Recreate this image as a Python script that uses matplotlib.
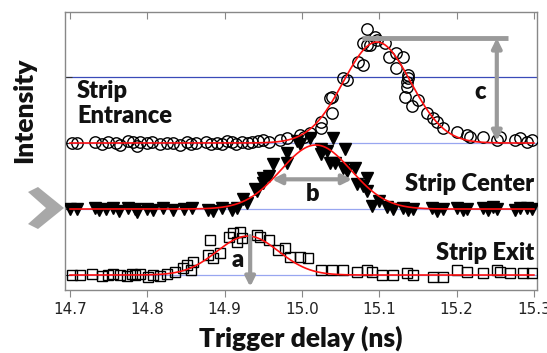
import numpy as np
import matplotlib
matplotlib.use("Agg")
import matplotlib.pyplot as plt
from matplotlib.patches import Polygon

# ---------------- data ----------------
entrance_x = [14.703, 14.709, 14.732, 14.741, 14.749, 14.759, 14.765, 14.775, 14.782, 14.787,
              14.791, 14.800, 14.806, 14.816, 14.825, 14.833, 14.842, 14.851, 14.857, 14.863,
              14.876, 14.882, 14.890, 14.897, 14.903, 14.910, 14.915, 14.923, 14.930, 14.936,
              14.943, 14.949,
              14.958, 14.971, 14.980, 14.998, 15.002, 15.011, 15.024, 15.024, 15.036, 15.039,
              15.039, 15.053, 15.058, 15.072, 15.079, 15.079, 15.084, 15.084, 15.088, 15.095,
              15.097, 15.108, 15.112, 15.121, 15.121, 15.131, 15.137, 15.137, 15.136, 15.136,
              15.133, 15.142, 15.150, 15.162, 15.169, 15.175, 15.182, 15.201, 15.213, 15.217,
              15.234, 15.252, 15.256, 15.276, 15.282, 15.291, 15.297]
entrance_y = [2.00, 2.00, 2.01, 1.99, 2.02, 2.00, 1.97, 2.03, 2.01, 1.96,
              2.02, 2.00, 2.01, 1.98, 2.00, 2.00, 1.97, 2.02, 1.99, 2.00,
              2.01, 1.98, 2.00, 1.99, 2.03, 2.02, 1.98, 2.01, 2.00, 2.02,
              2.03, 2.05,
              2.015, 2.045, 2.076, 2.12, 2.09, 2.15, 2.32, 2.23, 2.68, 2.70,
              2.45, 2.98, 2.95, 3.23, 3.18, 3.52, 3.48, 3.73, 3.48, 3.61,
              3.56, 3.52, 3.30, 3.36, 3.14, 3.30, 3.03, 2.98, 2.92, 2.85,
              2.70, 2.56, 2.65, 2.45, 2.38, 2.32, 2.23, 2.17, 2.12, 2.09,
              2.09, 2.05, 2.09, 2.05, 2.08, 2.02, 2.05]

center_x = [14.700, 14.709, 14.732, 14.738, 14.747, 14.755, 14.763, 14.775, 14.784, 14.787,
            14.800, 14.807, 14.820, 14.833, 14.848, 14.858, 14.879, 14.885, 14.897, 14.910,
            14.916,
            14.924, 14.929, 14.939, 14.942, 14.949, 14.949, 14.958, 14.962, 14.981, 14.981,
            14.994, 14.998, 15.011, 15.024, 15.024, 15.032, 15.040, 15.036, 15.043, 15.053,
            15.056, 15.058, 15.068, 15.071, 15.079, 15.084, 15.084, 15.090, 15.100,
            15.110, 15.118, 15.131, 15.137, 15.144, 15.168, 15.175, 15.182, 15.201, 15.208,
            15.214, 15.234, 15.241, 15.247, 15.252, 15.276, 15.282, 15.291, 15.297]
center_y = [1.00, 1.00, 1.02, 0.98, 1.00, 1.01, 0.97, 1.02, 1.00, 0.96,
            1.00, 0.98, 1.01, 0.99, 1.00, 1.02, 0.99, 0.97, 1.01, 0.99,
            1.02,
            1.15, 1.09, 1.30, 1.27, 1.39, 1.47, 1.50, 1.68, 1.85, 1.70,
            2.03, 1.98, 2.08, 1.91, 1.83, 1.88, 2.08, 1.70, 1.70, 1.62,
            1.91, 1.58, 1.62, 1.38, 1.35, 1.27, 1.47, 1.05, 1.12,
            1.03, 1.00, 1.02, 0.98, 1.00, 1.01, 0.97, 1.00, 1.02, 0.98,
            1.00, 1.02, 0.99, 1.03, 1.00, 0.98, 1.01, 1.02, 1.00]

exit_x = [14.703, 14.713, 14.729, 14.741, 14.749, 14.756, 14.765, 14.774, 14.780, 14.784,
          14.791, 14.801, 14.807, 14.816, 14.825,
          14.836, 14.846, 14.851, 14.859, 14.857, 14.878, 14.881, 14.885, 14.894, 14.905,
          14.911, 14.916, 14.920, 14.923, 14.942, 14.946, 14.958, 14.969, 14.978, 14.985,
          14.998, 15.008, 15.024, 15.039, 15.053,
          15.071, 15.084, 15.091, 15.104, 15.118, 15.136, 15.144, 15.169, 15.182, 15.200,
          15.213, 15.234, 15.252, 15.256, 15.269, 15.286, 15.297]
exit_y = [0.00, 0.00, 0.02, -0.02, 0.00, 0.01, 0.00, -0.01, 0.02, 0.00,
          0.01, -0.03, 0.00, -0.01, 0.01,
          0.05, 0.11, 0.15, 0.20, 0.08, 0.30, 0.53, 0.26, 0.33, 0.58,
          0.64, 0.50, 0.65, 0.56, 0.61, 0.58, 0.53, 0.38, 0.41, 0.27,
          0.27, 0.26, 0.08, 0.08, 0.08,
          0.05, 0.08, 0.05, 0.00, 0.00, 0.03, 0.00, -0.03, -0.03, 0.08,
          0.05, 0.03, 0.08, 0.05, 0.03, 0.03, 0.03]

# Gaussian fit parameters: (baseline, amplitude, center, sigma)
entrance_fit = (2.0, 1.53, 15.097, 0.0435)
center_fit = (1.0, 0.97, 15.018, 0.0455)
exit_fit = (0.0, 0.59, 14.930, 0.040)

x_ticks = [14.7, 14.8, 14.9, 15.0, 15.1, 15.2, 15.3]
x_tick_labels = ["14.7", "14.8", "14.9", "15.0", "15.1", "15.2", "15.3"]
y_levels = [0, 1, 2, 3]


def gauss(x, p):
    b, a, m, s = p
    return b + a * np.exp(-(x - m) ** 2 / (2 * s ** 2))


W, H = 547, 353
fig = plt.figure(figsize=(W / 100, H / 100), dpi=100)
ax = fig.add_axes([65 / W, 1 - 290 / H, 472 / W, 278 / H])

ax.set_xlim(14.6935, 15.304)
ax.set_ylim(-0.227, 3.985)

for lv in y_levels:
    col = "#3a4ab8" if lv == 3 else "#98a6f0"
    ax.axhline(lv, color=col, lw=0.9, zorder=1)

xf = np.linspace(14.70, 15.30, 400)
ms_kw = dict(linestyle="none", zorder=3)
ax.plot(entrance_x, entrance_y, marker="o", markersize=8.2, markerfacecolor="none",
        markeredgecolor="black", markeredgewidth=1.0, **ms_kw)
ax.plot(center_x, center_y, marker="v", markersize=9, color="black", **ms_kw)
ax.plot(exit_x, exit_y, marker="s", markersize=7.4, markerfacecolor="none",
        markeredgecolor="black", markeredgewidth=1.0, **ms_kw)
for p in (entrance_fit, center_fit, exit_fit):
    ax.plot(xf, gauss(xf, p), color="#ff1010", lw=1.2, zorder=4)

# ticks & spines
ax.set_xticks(x_ticks)
ax.set_xticklabels(x_tick_labels, fontsize=11, family="DejaVu Sans", color="#222222")
ax.set_yticks(y_levels)
ax.set_yticklabels([])
ax.tick_params(axis="x", which="both", direction="out", length=5, color="#888888",
               top=True, pad=4)
ax.tick_params(axis="y", direction="in", length=5, color="#333333")
for s in ax.spines.values():
    s.set_color("#888888")
    s.set_linewidth(1.0)
for t in ax.xaxis.get_major_ticks():
    t.tick2line.set_marker(3)

ax.set_xlabel("Trigger delay (ns)", family="Lato", fontweight="heavy", fontsize=19,
              labelpad=6, color="#111111")
fig.text(24 / W, 1 - 110 / H, "Intensity", family="Lato", fontweight="heavy", fontsize=19,
         rotation=90, ha="center", va="center", color="#111111")

tkw = dict(family="Lato", fontweight="heavy", fontsize=17, color="#111111")
ax.text(14.709, 3.0 - 0.04, "Strip\nEntrance", ha="left", va="top", linespacing=1.2, **tkw)
ax.text(15.300, 1.38, "Strip Center", ha="right", va="center", **tkw)
ax.text(15.300, 0.34, "Strip Exit", ha="right", va="center", **tkw)

# grey arrows
gray = "#9a9a9a"
akw = dict(color=gray, lw=3, mutation_scale=14, shrinkA=0, shrinkB=0)
ax.plot([15.078, 15.266], [3.59, 3.59], color=gray, lw=3.5, solid_capstyle="butt", zorder=5)
ax.annotate("", xy=(15.252, 2.03), xytext=(15.252, 3.59),
            arrowprops=dict(arrowstyle="<|-|>", **akw), zorder=5)
ax.annotate("", xy=(14.961, 1.45), xytext=(15.065, 1.45),
            arrowprops=dict(arrowstyle="<|-|>", **akw), zorder=5)
ax.annotate("", xy=(14.933, -0.18), xytext=(14.933, 0.59),
            arrowprops=dict(arrowstyle="-|>", **akw), zorder=5)
lkw = dict(family="Lato", fontweight="heavy", fontsize=17, color="#111111", ha="center",
           va="center")
ax.text(15.230, 2.77, "c", **lkw)
ax.text(15.014, 1.23, "b", **lkw)
ax.text(14.917, 0.23, "a", **lkw)

# chevron marker on the left
pts_px = [(28, 192), (38, 187), (64, 208), (38, 229), (28, 224), (46, 208)]
chev = Polygon([(x / W, 1 - y / H) for x, y in pts_px], closed=True,
               transform=fig.transFigure, facecolor="#a8a8a8", edgecolor="none")
fig.patches.append(chev)

fig.savefig("out.png", dpi=100)
